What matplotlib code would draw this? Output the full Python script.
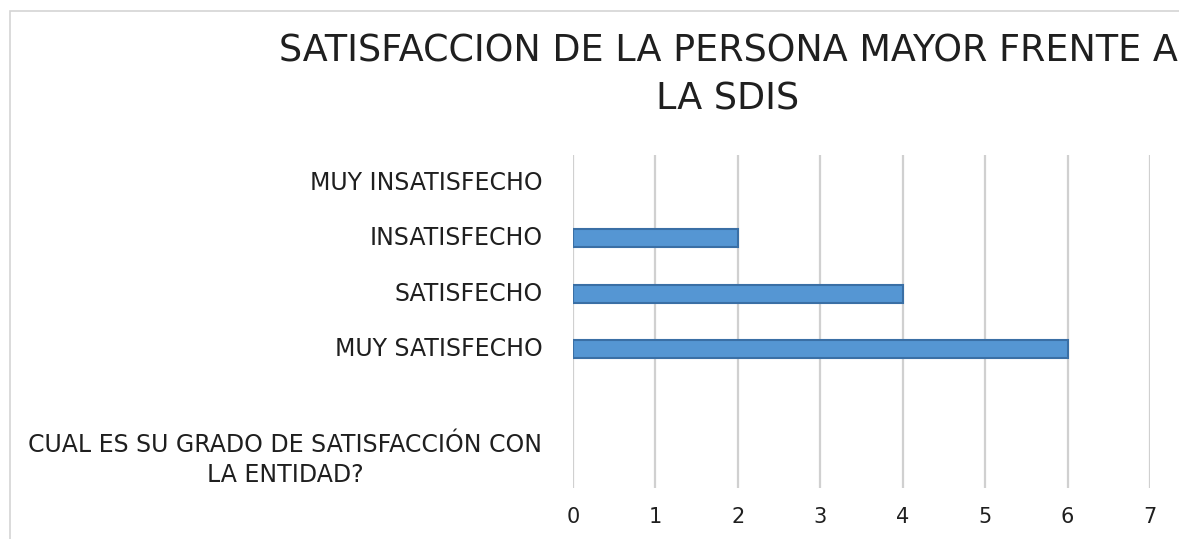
import matplotlib.pyplot as plt
from matplotlib.patches import Rectangle

# data, bottom to top as in the source sheet
categories = ['CUAL ES SU GRADO DE SATISFACCIÓN CON\nLA ENTIDAD?', '',
              'MUY SATISFECHO', 'SATISFECHO', 'INSATISFECHO', 'MUY INSATISFECHO']
counts = [0, 0, 6, 4, 2, 0]
x_ticks = [0, 1, 2, 3, 4, 5, 6, 7]
title = 'SATISFACCION DE LA PERSONA MAYOR FRENTE A\nLA SDIS'

W, H = 1179, 539
plt.rcParams['font.family'] = ['DejaVu Sans']

fig = plt.figure(figsize=(W / 100, H / 100), dpi=100)
ax = fig.add_axes([573 / W, 1 - 488 / H, (1150 - 573) / W, (488 - 155) / H])

ypos = list(range(len(categories)))
# empty counts get no bar at all (no stray edge line at 0)
shown = [i for i, v in enumerate(counts) if v > 0]
ax.barh([ypos[i] for i in shown], [counts[i] for i in shown], height=0.32,
        color='#5596d3', edgecolor='#3a6fa5', linewidth=1.5, zorder=3)

ax.set_xlim(0, 7)
ax.set_ylim(-0.5, len(categories) - 0.5)
ax.set_xticks(x_ticks)
ax.set_yticks(ypos)
ax.set_yticklabels(categories, multialignment='center', linespacing=1.3)
for lab in ax.get_yticklabels():
    lab.set_verticalalignment('center')
ax.tick_params(axis='y', length=0, labelsize=17, colors='#1f1f1f', pad=22)
ax.tick_params(axis='x', length=0, labelsize=15, colors='#1f1f1f', pad=14)
ax.grid(axis='x', color='#d0d0d0', linewidth=1.6, zorder=0)
for s in ax.spines.values():
    s.set_visible(False)

# chart frame (cut off at right and bottom in the source)
fig.patches.append(Rectangle((10 / W, -0.1), 1.2, 1 - 11 / H + 0.1, transform=fig.transFigure,
                             fill=False, edgecolor='#d4d4d4', linewidth=1.2))

fig.text(728 / W, 1 - 75 / H, title, ha='center', va='center', fontsize=26.3,
         color='#1f1f1f', linespacing=1.38)

fig.savefig('out.png', dpi=100)
